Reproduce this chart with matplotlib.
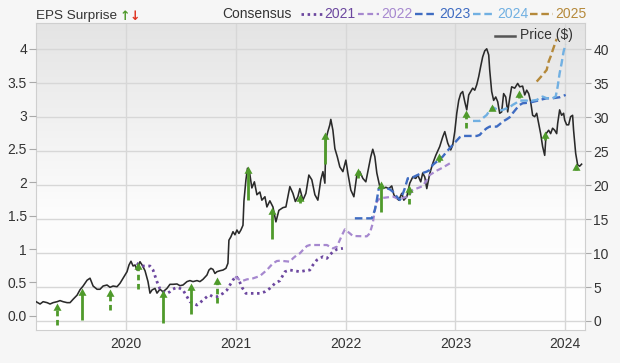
import matplotlib
matplotlib.use('Agg')
import matplotlib.pyplot as plt
import numpy as np
from matplotlib.lines import Line2D
from matplotlib.path import Path
from matplotlib.colors import LinearSegmentedColormap

plt.rcParams['font.family'] = ['Liberation Sans', 'DejaVu Sans']

# ---------------------------------------------------------------- data
YEARS = [2020, 2021, 2022, 2023, 2024]
EPS_TICKS = [0, 0.5, 1, 1.5, 2, 2.5, 3, 3.5, 4]
EPS_LABELS = ['0.0', '0.5', '1', '1.5', '2', '2.5', '3', '3.5', '4']
PRICE_TICKS = [0, 5, 10, 15, 20, 25, 30, 35, 40]

# price ($), decimal year
price_dates = [
    2019.181, 2019.217, 2019.245, 2019.281, 2019.308, 2019.336, 2019.372, 2019.399, 2019.427,
    2019.463, 2019.490, 2019.518, 2019.554, 2019.581, 2019.609, 2019.645, 2019.672, 2019.700,
    2019.736, 2019.763, 2019.791, 2019.827, 2019.854, 2019.882, 2019.918, 2019.945, 2019.973,
    2020.009, 2020.027, 2020.045, 2020.064, 2020.082, 2020.100, 2020.127, 2020.146, 2020.173,
    2020.200, 2020.218, 2020.237, 2020.264, 2020.282, 2020.309, 2020.337, 2020.373, 2020.400,
    2020.428, 2020.464, 2020.491, 2020.519, 2020.555, 2020.582, 2020.610, 2020.646, 2020.673,
    2020.701, 2020.737, 2020.755, 2020.773, 2020.792, 2020.810, 2020.828, 2020.855, 2020.883,
    2020.910, 2020.928, 2020.937, 2020.955, 2020.974, 2020.992,
    2021.010, 2021.028, 2021.046, 2021.065, 2021.074, 2021.092, 2021.106, 2021.124, 2021.146,
    2021.169, 2021.192, 2021.219, 2021.237, 2021.265, 2021.283, 2021.310, 2021.338, 2021.365,
    2021.392, 2021.429, 2021.456, 2021.492, 2021.520, 2021.542, 2021.565, 2021.583, 2021.611,
    2021.638, 2021.665, 2021.692, 2021.720, 2021.747, 2021.774, 2021.793, 2021.811, 2021.820,
    2021.838, 2021.856, 2021.865, 2021.884, 2021.902, 2021.924, 2021.947, 2021.975,
    2022.002, 2022.020, 2022.047, 2022.075, 2022.102, 2022.129, 2022.157, 2022.184, 2022.211,
    2022.229, 2022.247, 2022.266, 2022.284, 2022.311, 2022.338, 2022.366, 2022.393, 2022.420,
    2022.439, 2022.457, 2022.484, 2022.511, 2022.530, 2022.557, 2022.584, 2022.611, 2022.639,
    2022.657, 2022.684, 2022.702, 2022.721, 2022.739, 2022.766, 2022.793, 2022.821, 2022.857,
    2022.884, 2022.903, 2022.930, 2022.957, 2022.975, 2022.994,
    2023.012, 2023.030, 2023.048, 2023.066, 2023.085, 2023.103, 2023.121, 2023.139, 2023.157,
    2023.176, 2023.194, 2023.212, 2023.230, 2023.248, 2023.267, 2023.285, 2023.303, 2023.312,
    2023.330, 2023.348, 2023.367, 2023.385, 2023.403, 2023.421, 2023.439, 2023.458, 2023.476,
    2023.494, 2023.512, 2023.540, 2023.567, 2023.585, 2023.612, 2023.631, 2023.649, 2023.667,
    2023.685, 2023.703, 2023.722, 2023.740, 2023.758, 2023.776, 2023.794, 2023.813, 2023.826,
    2023.849, 2023.867, 2023.885, 2023.904, 2023.922, 2023.931, 2023.949, 2023.967, 2023.985,
    2023.995,
    2024.013, 2024.031, 2024.049, 2024.067, 2024.076, 2024.095, 2024.113, 2024.131, 2024.149,
]
price_values = [
    2.84, 2.5, 2.84, 2.7, 2.5, 2.7, 2.84, 3.0, 2.84,
    2.7, 2.7, 3.2, 3.8, 4.6, 5.15, 6.0, 6.3, 5.15,
    4.67, 4.67, 5.15, 5.3, 4.96, 5.15, 5.05, 5.55, 6.3,
    7.26, 8.25, 8.8, 8.1, 8.25, 7.5, 8.73, 8.25, 7.4,
    5.8, 4.1, 4.57, 4.8, 4.1, 4.67, 4.3, 4.8, 5.4,
    5.4, 5.45, 5.2, 5.3, 5.8, 5.95, 5.8, 5.95, 5.8,
    6.14, 6.77, 7.5, 7.76, 7.6, 7.0, 7.26, 7.4, 7.5,
    7.76, 8.5, 11.9, 12.4, 13.15, 12.7,
    13.4, 12.9, 13.4, 14.1, 17.7, 20.8, 22.5, 22.0, 19.6,
    20.5, 18.6, 19.0, 17.8, 18.3, 16.8, 17.7, 16.8, 14.6,
    16.3, 16.7, 16.8, 19.8, 18.8, 17.6, 18.3, 19.5, 17.8,
    18.8, 21.5, 20.8, 18.6, 17.8, 20.8, 22.0, 20.3, 26.7,
    27.9, 28.9, 29.7, 28.1, 25.4, 24.2, 22.7, 22.0,
    23.7, 21.8, 19.3, 18.3, 21.5, 22.0, 21.0, 20.5, 22.7,
    24.2, 25.3, 24.2, 21.8, 19.8, 19.5, 19.7, 19.5, 19.9,
    18.6, 18.2, 17.8, 18.8, 17.8, 18.3, 20.3, 21.2, 21.0,
    21.5, 20.5, 21.8, 21.2, 19.5, 21.7, 23.2, 24.4, 25.7,
    27.1, 27.9, 26.2, 25.2, 25.9, 27.9,
    30.6, 32.5, 33.5, 33.8, 32.3, 31.1, 33.3, 33.8, 34.3,
    34.0, 34.8, 36.0, 37.5, 38.9, 39.8, 40.1, 39.2, 37.0,
    33.8, 32.5, 33.0, 32.3, 30.6, 30.8, 33.5, 33.0, 30.8,
    32.8, 34.5, 34.3, 35.0, 34.5, 34.6, 33.3, 34.0, 33.5,
    32.3, 30.3, 30.1, 30.6, 29.1, 27.6, 25.7, 24.4, 27.6,
    28.1, 27.6, 28.4, 28.1, 27.6, 29.1, 31.1, 30.3, 30.6,
    29.6,
    28.9, 28.9, 30.1, 30.3, 28.1, 24.7, 23.0, 22.8, 23.1,
]

# consensus EPS estimates per fiscal year
cons_2021_dates = [
    2020.097, 2020.127, 2020.155, 2020.218, 2020.246, 2020.282, 2020.309, 2020.337, 2020.373,
    2020.400, 2020.428, 2020.464, 2020.491, 2020.519, 2020.555, 2020.582, 2020.610, 2020.646,
    2020.673, 2020.701, 2020.737, 2020.764, 2020.792, 2020.828, 2020.855, 2020.883, 2020.919,
    2020.946, 2020.974, 2021.001, 2021.028, 2021.056, 2021.092, 2021.219, 2021.265, 2021.310,
    2021.356, 2021.401, 2021.447, 2021.492, 2021.583, 2021.629, 2021.674, 2021.702, 2021.738,
    2021.765, 2021.793, 2021.829, 2021.856, 2021.884, 2021.920, 2021.975,
]
cons_2021 = [
    0.786, 0.76, 0.745, 0.745, 0.685, 0.51, 0.40, 0.36, 0.335,
    0.36, 0.40, 0.425, 0.41, 0.385, 0.285, 0.21, 0.186, 0.16,
    0.195, 0.235, 0.285, 0.31, 0.285, 0.285, 0.31, 0.335, 0.385,
    0.46, 0.535, 0.595, 0.535, 0.425, 0.335, 0.335, 0.36, 0.41,
    0.485, 0.525, 0.66, 0.685, 0.66, 0.675, 0.685, 0.76, 0.835,
    0.86, 0.885, 0.86, 0.91, 0.96, 0.995, 1.01,
]
cons_2022_dates = [
    2020.992, 2021.037, 2021.065, 2021.101, 2021.156, 2021.219, 2021.247, 2021.283, 2021.310,
    2021.338, 2021.374, 2021.401, 2021.492, 2021.520, 2021.556, 2021.583, 2021.611, 2021.647,
    2021.674, 2021.829, 2021.856, 2021.884, 2021.920, 2021.947, 2021.975, 2021.993, 2022.038,
    2022.066, 2022.193, 2022.220, 2022.247, 2022.266, 2022.284, 2022.311, 2022.429, 2022.493,
    2022.557, 2022.584, 2022.611, 2022.675, 2022.702, 2022.739, 2022.766, 2022.830, 2022.884,
    2022.975,
]
cons_2022 = [
    0.585, 0.535, 0.525, 0.545, 0.56, 0.595, 0.635, 0.685, 0.735,
    0.785, 0.82, 0.825, 0.81, 0.86, 0.91, 0.935, 0.985, 1.045,
    1.06, 1.06, 1.035, 1.01, 1.035, 1.135, 1.235, 1.295, 1.235,
    1.195, 1.19, 1.235, 1.385, 1.585, 1.71, 1.76, 1.785, 1.75,
    1.785, 1.82, 1.885, 1.925, 1.945, 2.035, 2.11, 2.175, 2.22,
    2.31,
]
cons_2023_dates = [
    2022.084, 2022.238, 2022.266, 2022.284, 2022.302, 2022.348, 2022.402, 2022.429, 2022.466,
    2022.493, 2022.511, 2022.539, 2022.566, 2022.611, 2022.675, 2022.739, 2022.766, 2022.793,
    2022.830, 2022.884, 2022.921, 2022.948, 2022.975, 2023.003, 2023.039, 2023.066, 2023.194,
    2023.221, 2023.248, 2023.285, 2023.312, 2023.376, 2023.403, 2023.430, 2023.467, 2023.494,
    2023.521, 2023.558, 2023.585, 2023.612, 2023.676, 2023.740, 2023.794, 2023.831, 2023.885,
    2023.949, 2024.004,
]
cons_2023 = [
    1.46, 1.46, 1.585, 1.735, 1.91, 1.925, 1.895, 1.86, 1.785,
    1.735, 1.785, 1.91, 2.06, 2.075, 2.125, 2.16, 2.185, 2.26,
    2.31, 2.385, 2.46, 2.51, 2.56, 2.61, 2.675, 2.695, 2.695,
    2.71, 2.76, 2.81, 2.835, 2.835, 2.87, 2.91, 2.945, 2.975,
    3.035, 3.11, 3.16, 3.185, 3.195, 3.22, 3.245, 3.26, 3.26,
    3.275, 3.31,
]
cons_2024_dates = [
    2023.160, 2023.221, 2023.248, 2023.285, 2023.312, 2023.339, 2023.376, 2023.403, 2023.430,
    2023.467, 2023.494, 2023.521, 2023.558, 2023.585, 2023.649, 2023.676, 2023.703, 2023.740,
    2023.767, 2023.794, 2023.831, 2023.885, 2023.913, 2023.931, 2023.949, 2023.967, 2023.985,
    2024.004,
]
cons_2024 = [
    2.92, 2.92, 2.96, 3.01, 3.08, 3.125, 3.095, 3.075, 3.085,
    3.11, 3.125, 3.16, 3.195, 3.225, 3.225, 3.21, 3.225, 3.235,
    3.26, 3.285, 3.26, 3.26, 3.285, 3.435, 3.635, 3.785, 3.96,
    4.07,
]
cons_2025_dates = [2023.740, 2023.767, 2023.794, 2023.831, 2023.849, 2023.867, 2023.885, 2023.922]
cons_2025 = [3.51, 3.56, 3.61, 3.685, 3.81, 3.885, 3.975, 4.15]

# EPS surprise: report date, consensus (arrow base), actual (arrow tip)
surprise_dates = [2019.37, 2019.60, 2019.85, 2020.11, 2020.34, 2020.59, 2020.83, 2021.11, 2021.33, 2021.58,
                  2021.81, 2022.11, 2022.32, 2022.58, 2022.85, 2023.10, 2023.33, 2023.58, 2023.82, 2024.10]
surprise_base = [-0.14, -0.065, 0.085, 0.40, -0.105, 0.02, 0.186, 1.73, 1.15, 1.69,
                 2.28, 2.07, 1.56, 1.67, 2.31, 2.81, 3.08, 3.26, 2.63, 2.18]
surprise_actual = [0.186, 0.41, 0.40, 0.81, 0.385, 0.495, 0.576, 2.24, 1.63, 1.82,
                   2.76, 2.21, 2.02, 1.96, 2.44, 3.08, 3.17, 3.38, 2.77, 2.29]
surprise_solid = [False, True, False, False, True, True, False, True, True, False,
                  True, False, True, False, False, False, True, False, True, False]

# ---------------------------------------------------------------- style
GREEN = '#4f9a2b'
RED = '#e0321f'
TEXT = '#333333'
SERIES = [
    ('2021', cons_2021_dates, cons_2021, '#6c479f', (0, (0.9, 1.3)), 2.0),
    ('2022', cons_2022_dates, cons_2022, '#a688cf', (0, (2.6, 1.6)), 1.6),
    ('2023', cons_2023_dates, cons_2023, '#3f6cc2', (0, (3.2, 1.6)), 1.7),
    ('2024', cons_2024_dates, cons_2024, '#71b0e2', (0, (3.2, 1.6)), 1.7),
    ('2025', cons_2025_dates, cons_2025, '#b5893a', (0, (3.2, 1.6)), 1.7),
]

W, H = 620, 363


def fx(px):
    return px / W


def fy(py):
    return 1 - py / H


fig = plt.figure(figsize=(W / 100, H / 100), dpi=100, facecolor='#f6f6f6')
rect = [fx(36), fy(330), fx(585) - fx(36), fy(23) - fy(330)]

# gradient background of the plot area
bg = fig.add_axes(rect, zorder=0)
bgmap = LinearSegmentedColormap.from_list('bg', [(0, '#e4e4e4'), (0.6, '#fcfcfc'), (1, '#ffffff')])
bg.imshow(np.linspace(0, 1, 256).reshape(-1, 1), cmap=bgmap, aspect='auto', extent=[0, 1, 0, 1])
bg.axis('off')

# price axis (right)
axp = fig.add_axes(rect, zorder=1)
axp.patch.set_visible(False)
axp.plot(price_dates, price_values, color='#2a2a2a', lw=1.15, zorder=3)
axp.set_ylim(-1.33, 43.9)
axp.set_xlim(2019.18, 2024.18)
axp.set_yticks(PRICE_TICKS)
axp.set_xticks(YEARS)
axp.set_xticklabels([str(y) for y in YEARS])
axp.yaxis.tick_right()
axp.grid(True, color='#d7d7d7', lw=1.0)
axp.set_axisbelow(True)
axp.tick_params(axis='y', length=4, width=0.8, color='#aaaaaa', pad=2, labelsize=10, labelcolor=TEXT)
axp.tick_params(axis='x', length=0, pad=5, labelsize=10, labelcolor=TEXT)
for s in axp.spines.values():
    s.set_color('#cfcfcf')
    s.set_linewidth(0.8)

# EPS axis (left)
ax = fig.add_axes(rect, zorder=2, sharex=axp)
ax.patch.set_visible(False)
ax.set_ylim(-0.214, 4.388)
ax.set_yticks(EPS_TICKS)
ax.set_yticklabels(EPS_LABELS)
ax.tick_params(axis='y', length=5, width=0.8, color='#aaaaaa', pad=1.5, labelsize=10, labelcolor=TEXT)
ax.tick_params(axis='x', length=0, labelbottom=False)
for s in ax.spines.values():
    s.set_visible(False)

for label, d, v, c, ls, lw in SERIES:
    ax.plot(d, v, color=c, ls=ls, lw=lw, zorder=3)

head = Path([(-0.55, -1.0), (0.0, 0.0), (0.55, -1.0), (-0.55, -1.0)], closed=True)
for d, b, a, solid in zip(surprise_dates, surprise_base, surprise_actual, surprise_solid):
    c = GREEN if a >= b else RED
    ax.plot([d, d], [b, a - 0.06], color=c, lw=2.0, ls='-' if solid else (0, (2.0, 1.3)),
            solid_capstyle='butt', dash_capstyle='butt', zorder=4)
    ax.plot([d], [a], marker=head, ms=10.5, color=c, mew=0, zorder=5)

# top legend
fig.text(fx(36), fy(16.5), 'EPS Surprise', ha='left', va='center', fontsize=9.7, color=TEXT)
fig.text(fx(124.5), fy(16), '\u2191', ha='center', va='center', fontsize=9, color=GREEN,
         fontweight='bold', family='DejaVu Sans')
fig.text(fx(134.5), fy(16), '\u2193', ha='center', va='center', fontsize=9, color=RED,
         fontweight='bold', family='DejaVu Sans')
fig.text(fx(222), fy(13.5), 'Consensus', ha='left', va='center', fontsize=10, color=TEXT)

legend_pos = [(301, 322, 324), (358, 379, 381), (415, 437, 439), (473, 495, 497), (530, 553, 555)]
for (label, d, v, c, ls, lw), (x0, x1, xt) in zip(SERIES, legend_pos):
    fig.add_artist(Line2D([fx(x0), fx(x1)], [fy(14), fy(14)], transform=fig.transFigure,
                          color=c, ls=ls, lw=lw))
    fig.text(fx(xt), fy(13.5), label, ha='left', va='center', fontsize=10, color=c)

# price legend inside the plot
fig.add_artist(Line2D([fx(495), fx(515)], [fy(35.5), fy(35.5)], transform=fig.transFigure,
                      color='#555555', lw=1.8))
fig.text(fx(520), fy(35.5), 'Price ($)', ha='left', va='center', fontsize=10, color=TEXT)

fig.savefig('out.png', dpi=100, facecolor=fig.get_facecolor())
